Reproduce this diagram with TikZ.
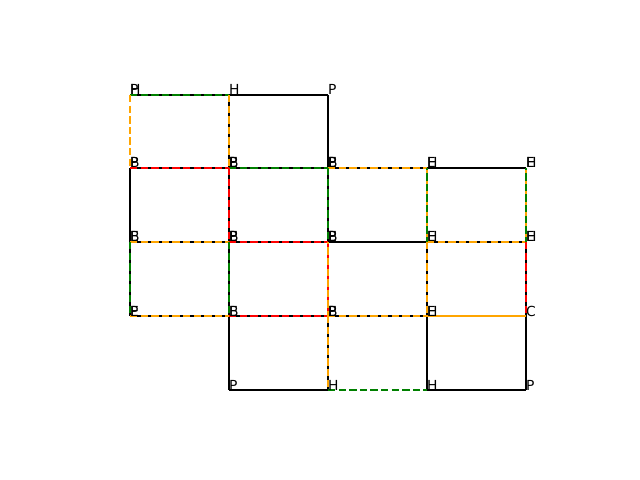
\documentclass[tikz,border=0pt]{standalone}
\usepackage{fontspec}
\setmainfont{DejaVu Sans}
\definecolor{mgreen}{RGB}{0,128,0}
\definecolor{morange}{RGB}{255,165,0}
\definecolor{mred}{RGB}{255,0,0}
\begin{document}
\begin{tikzpicture}[x=1bp,y=-1bp,
  blk/.style={line width=1.8bp, black},
  dsh/.style={line width=1.6bp, dash pattern=on 7.4bp off 3.2bp},
  dshb/.style={line width=1.6bp, dash pattern=on 7.4bp off 3.2bp, dash phase=5.3bp},
  lbl/.style={anchor=base west, inner sep=0pt, font=\fontsize{13.9}{16}\selectfont}]
\useasboundingbox (0,0) rectangle (640,480);
\fill[white] (0,0) rectangle (640,480);
% vertices
\foreach \i/\x in {0/130,1/229,2/328,3/427,4/526}{
  \foreach \j/\y in {0/95,1/168,2/242,3/316,4/390}{
    \coordinate (v\i\j) at (\x,\y);
  }
}
% black edges
\draw[blk] (v00) -- (v10);
\draw[blk] (v10) -- (v20);
\draw[blk] (v01) -- (v11);
\draw[blk] (v11) -- (v21);
\draw[blk] (v21) -- (v31);
\draw[blk] (v31) -- (v41);
\draw[blk] (v02) -- (v12);
\draw[blk] (v12) -- (v22);
\draw[blk] (v22) -- (v32);
\draw[blk] (v32) -- (v42);
\draw[blk] (v03) -- (v13);
\draw[blk] (v13) -- (v23);
\draw[blk] (v23) -- (v33);
\draw[blk] (v14) -- (v24);
\draw[blk] (v34) -- (v44);
\draw[blk] (v01) -- (v02);
\draw[blk] (v02) -- (v03);
\draw[blk] (v10) -- (v11);
\draw[blk] (v11) -- (v12);
\draw[blk] (v12) -- (v13);
\draw[blk] (v13) -- (v14);
\draw[blk] (v20) -- (v21);
\draw[blk] (v21) -- (v22);
\draw[blk] (v23) -- (v24);
\draw[blk] (v32) -- (v33);
\draw[blk] (v33) -- (v34);
\draw[blk] (v42) -- (v43);
\draw[blk] (v43) -- (v44);
% coloured dashed edges
\draw[dsh, mgreen] (v00) -- (v10);
\draw[dsh, mred] (v01) -- (v11);
\draw[dsh, mgreen] (v11) -- (v21);
\draw[dsh, morange] (v21) -- (v31);
\draw[dsh, morange] (v02) -- (v12);
\draw[dsh, mred] (v12) -- (v22);
\draw[dsh, morange] (v32) -- (v42);
\draw[dsh, morange] (v03) -- (v13);
\draw[dsh, mred] (v13) -- (v23);
\draw[dsh, morange] (v23) -- (v33);
\draw[dsh, morange] (v33) -- (v43);
\draw[dshb, morange] (v33) -- (v43);
\draw[dsh, mgreen] (v24) -- (v34);
\draw[dsh, morange] (v00) -- (v01);
\draw[dsh, mgreen] (v02) -- (v03);
\draw[dsh, morange] (v10) -- (v11);
\draw[dsh, mred] (v11) -- (v12);
\draw[dsh, mgreen] (v12) -- (v13);
\draw[dsh, mgreen] (v21) -- (v22);
\draw[dsh, mred] (v22) -- (v23);
\draw[dshb, morange] (v22) -- (v23);
\draw[dsh, morange] (v23) -- (v24);
\draw[dsh, morange] (v31) -- (v32);
\draw[dshb, mgreen] (v31) -- (v32);
\draw[dsh, morange] (v32) -- (v33);
\draw[dsh, morange] (v41) -- (v42);
\draw[dshb, mgreen] (v41) -- (v42);
\draw[dsh, mred] (v42) -- (v43);
% labels
\node[lbl] (a00) at (v00) {P}; \node[lbl] (b00) at (v00) {H};
\node[lbl] (a10) at (v10) {H};
\node[lbl] (a20) at (v20) {P};
\node[lbl] (a01) at (v01) {P}; \node[lbl] (b01) at (v01) {B};
\node[lbl] (a11) at (v11) {B}; \node[lbl] (b11) at (v11) {E}; \node[lbl] (c11) at (v11) {P};
\node[lbl] (a21) at (v21) {B}; \node[lbl] (b21) at (v21) {E}; \node[lbl] (c21) at (v21) {P};
\node[lbl] (a31) at (v31) {E}; \node[lbl] (b31) at (v31) {H};
\node[lbl] (a41) at (v41) {E}; \node[lbl] (b41) at (v41) {H};
\node[lbl] (a02) at (v02) {B}; \node[lbl] (b02) at (v02) {E};
\node[lbl] (a12) at (v12) {B}; \node[lbl] (b12) at (v12) {E}; \node[lbl] (c12) at (v12) {P};
\node[lbl] (a22) at (v22) {B}; \node[lbl] (b22) at (v22) {E}; \node[lbl] (c22) at (v22) {P};
\node[lbl] (a32) at (v32) {E}; \node[lbl] (b32) at (v32) {H};
\node[lbl] (a42) at (v42) {E}; \node[lbl] (b42) at (v42) {H};
\node[lbl] (a03) at (v03) {P}; \node[lbl] (b03) at (v03) {E};
\node[lbl] (a13) at (v13) {B}; \node[lbl] (b13) at (v13) {E};
\node[lbl] (a23) at (v23) {B}; \node[lbl] (b23) at (v23) {E}; \node[lbl] (c23) at (v23) {P};
\node[lbl] (a33) at (v33) {E}; \node[lbl] (b33) at (v33) {H};
\node[lbl] (a43) at (v43) {C};
\node[lbl] (a14) at (v14) {P};
\node[lbl] (a24) at (v24) {H};
\node[lbl] (a34) at (v34) {H};
\node[lbl] (a44) at (v44) {P};
\end{tikzpicture}
\end{document}
